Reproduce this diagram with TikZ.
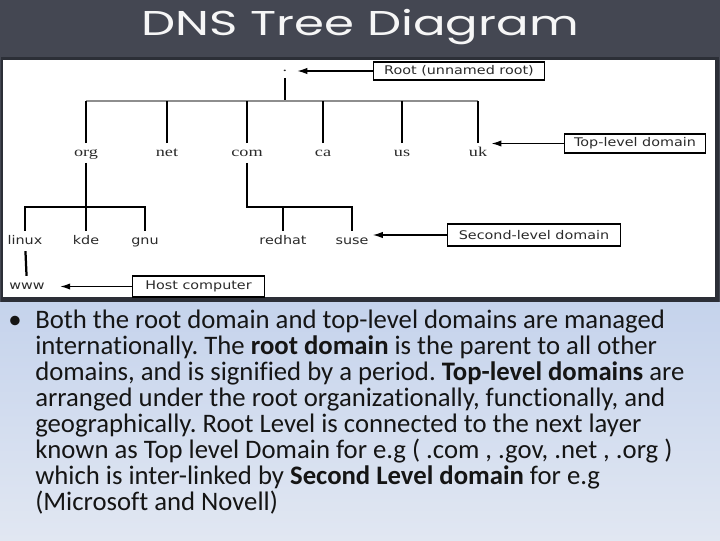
\documentclass[tikz,border=0pt]{standalone}
\usepackage{fontspec}
\setmainfont[RawFeature=-liga]{Carlito}
\newfontfamily\labelfont[FakeStretch=1.2]{DejaVu Sans}
\newfontfamily\tldfont[FakeStretch=1.35]{Liberation Serif}
\newfontfamily\titlefont[FakeStretch=1.4]{Poppins}
\usepackage{tikz}
\usetikzlibrary{arrows.meta,positioning}
\definecolor{slate}{HTML}{444752}
\definecolor{slatedark}{HTML}{2C2F37}
\definecolor{paleblue}{HTML}{C5D3EC}
\definecolor{mistblue}{HTML}{E1E7F2}
\definecolor{inkgray}{HTML}{2A2A2A}
\definecolor{bargray}{HTML}{8E8E8E}
\definecolor{bodyink}{HTML}{151515}
\tikzset{
  tld/.style={font=\tldfont\fontsize{9.6pt}{10pt}\selectfont, text=inkgray, inner sep=3pt, text height=6pt, text depth=1.5pt},
  sld/.style={font=\labelfont\fontsize{8.5pt}{10pt}\selectfont, text=inkgray, inner sep=3pt, text height=6.5pt, text depth=1.5pt},
  tag/.style={draw=black, line width=0.9pt, fill=white, font=\labelfont\fontsize{8.5pt}{10pt}\selectfont, text=inkgray, inner sep=0pt},
  link/.style={line width=1.6pt, draw=black},
  bar/.style={line width=1.4pt, draw=bargray},
  arrow/.style={-{Latex[length=7pt,width=4.5pt]}, line width=0.8pt, draw=black},
  body/.style={font=\fontsize{19pt}{21pt}\selectfont, text=bodyink, inner sep=0pt, anchor=base west}
}
\frenchspacing

\begin{document}
\begin{tikzpicture}[x=0.025cm, y=-0.025cm]
  \useasboundingbox (0,0) rectangle (720,540);
  % slide background
  \fill[slate] (0,0) rectangle (720,303);
  \fill[slatedark] (1,57) rectangle (719,302);
  \fill[white] (3,60) rectangle (715,297);
  \shade[top color=paleblue, bottom color=mistblue] (0,302) rectangle (720,540);

  \node[font=\titlefont\fontsize{24.5pt}{26pt}\selectfont, text=white!95!slate, anchor=base] (title) at (360,35) {DNS Tree Diagram};

  % tree
  \node[tld, inner xsep=7pt] (root) at (285,68) {.};
  \coordinate (top) at (285,101);
  \foreach \name/\x in {org/86, net/167, com/247, ca/323, us/402, uk/478}
    \node[tld] (\name) at (\x,153) {\name};
  \foreach \name/\x in {linux/25, kde/86, gnu/145, redhat/283, suse/352}
    \node[sld] (\name) at (\x,241) {\name};
  \node[sld] (www) at (27,286) {www};

  \draw[link] (root.south) -- (top);
  \draw[bar] (org |- top) -- (uk |- top);
  \foreach \name in {org, net, com, ca, us, uk}
    \draw[link] (\name) -- (\name |- top);

  \coordinate (orgjoin) at (86,207);
  \coordinate (comjoin) at (247,207);
  \draw[link] (org) -- (orgjoin);
  \draw[link] (linux) |- (orgjoin) -| (gnu);
  \draw[link] (kde) -- (orgjoin);
  \draw[link] (com) -- (comjoin) -| (suse);
  \draw[link] (redhat) -- (redhat |- comjoin);
  \draw[link] (linux) -- (www);

  % level tags
  \node[tag, minimum width=122pt, minimum height=12.8pt] (roottag) at (459,71) {Root (unnamed root)};
  \node[tag, minimum width=100.6pt, minimum height=13.5pt] (tldtag) at (635,143.5) {Top-level domain};
  \node[tag, minimum width=123.3pt, minimum height=15.6pt] (sldtag) at (534,235) {Second-level domain};
  \node[tag, minimum width=94.3pt, minimum height=14.9pt] (hosttag) at (198.5,286.5) {Host computer};

  \draw[arrow] (roottag.west) -- (roottag.west -| root.east);
  \draw[arrow] (tldtag.west) -- (tldtag.west -| uk.east);
  \draw[arrow] (sldtag.west) -- (sldtag.west -| suse.east);
  \draw[arrow, shorten >=8pt] (hosttag.west) -- (hosttag.west -| www.east);

  % notes
  \node[body, anchor=base] (dot) at (15,328) {•};
  \foreach \txt [count=\i] in {
    {Both the root domain and top-level domains are managed},
    {internationally. The \textbf{root domain} is the parent to all other},
    {domains, and is signified by a period. \textbf{Top-level domains} are},
    {arranged under the root organizationally, functionally, and},
    {geographically. Root Level is connected to the next layer},
    {known as Top level Domain for e.g ( .com , .gov, .net , .org )},
    {which is inter-linked by \textbf{Second Level domain} for e.g},
    {(Microsoft and Novell)}}
    \node[body] (line\i) at (35,{328+26.1*(\i-1)}) {\txt};
\end{tikzpicture}
\end{document}
